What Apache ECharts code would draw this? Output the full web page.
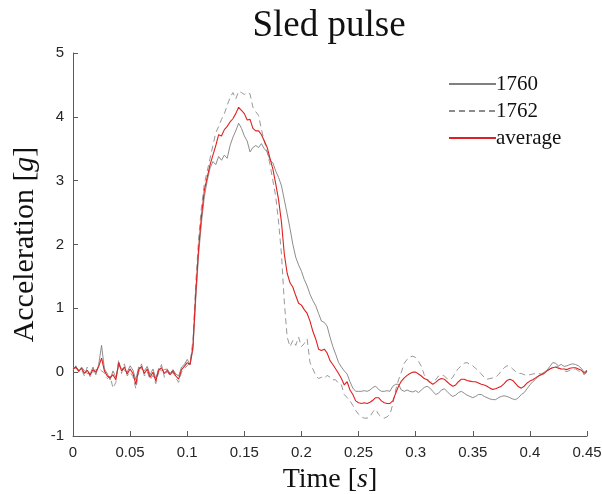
<!DOCTYPE html>
<html>
<head>
<meta charset="utf-8">
<script src="https://cdn.jsdelivr.net/npm/echarts@6/dist/echarts.min.js"></script>
<style>html,body{margin:0;padding:0;background:#fff}#c{width:602px;height:494px}</style>
</head>
<body>
<div id="c"></div>
<script>
// sample spacing of the traces (s)
const sampleStep = 0.0025;
const seriesNames = ['1760', '1762', 'average'];
const xTickLabels = ['0','0.05','0.1','0.15','0.2','0.25','0.3','0.35','0.4','0.45'];
const yTickLabels = ['-1','0','1','2','3','4','5'];

const acc1760 = [
 0.03,0.10,0.00,0.08,0.02,-0.02,-0.03,0.08,-0.04,0.12,
 0.42,0.05,-0.02,-0.12,0.02,-0.08,0.10,0.06,0.03,0.00,
 0.10,0.03,-0.12,0.08,0.05,0.02,0.09,-0.04,0.05,-0.10,
 0.06,0.02,0.04,0.05,-0.02,0.04,-0.03,-0.06,0.08,0.12,
 0.20,0.12,0.35,1.15,1.85,2.35,2.75,3.00,3.20,3.30,
 3.25,3.38,3.32,3.40,3.35,3.55,3.68,3.78,3.90,3.82,
 3.70,3.62,3.45,3.52,3.55,3.52,3.58,3.50,3.45,3.32,
 3.28,3.15,3.05,2.92,2.70,2.48,2.25,2.00,1.80,1.68,
 1.58,1.45,1.35,1.22,1.12,1.04,0.92,0.80,0.78,0.72,
 0.55,0.40,0.28,0.15,0.08,0.02,-0.03,-0.15,-0.25,-0.30,
 -0.30,-0.30,-0.29,-0.30,-0.28,-0.24,-0.22,-0.27,-0.30,-0.30,
 -0.29,-0.30,-0.22,-0.19,-0.19,-0.28,-0.30,-0.28,-0.30,-0.31,
 -0.29,-0.32,-0.28,-0.24,-0.22,-0.25,-0.30,-0.35,-0.33,-0.28,
 -0.26,-0.30,-0.35,-0.38,-0.36,-0.32,-0.30,-0.33,-0.36,-0.38,
 -0.40,-0.38,-0.35,-0.35,-0.38,-0.40,-0.42,-0.43,-0.43,-0.40,
 -0.38,-0.37,-0.38,-0.40,-0.42,-0.43,-0.40,-0.35,-0.32,-0.26,
 -0.20,-0.15,-0.11,-0.06,-0.03,0.00,0.03,0.09,0.15,0.14,
 0.10,0.12,0.09,0.10,0.12,0.13,0.12,0.10,0.06,0.00,
 0.03
];
const acc1762 = [
 0.07,0.06,0.04,0.04,-0.06,0.08,-0.07,0.00,0.04,0.06,
 0.02,-0.01,-0.10,-0.06,-0.25,-0.16,0.20,-0.02,0.13,-0.06,
 0.00,-0.07,-0.26,0.00,0.13,-0.06,0.01,-0.12,-0.05,-0.18,
 0.00,0.12,-0.08,0.01,-0.06,0.00,-0.09,-0.16,0.00,0.06,
 0.10,0.15,0.50,1.40,2.10,2.60,2.95,3.15,3.35,3.55,
 3.75,3.85,3.96,4.05,4.18,4.30,4.38,4.28,4.40,4.38,
 4.35,4.38,4.36,4.15,4.08,4.02,3.80,3.62,3.45,3.25,
 3.00,2.75,2.35,1.85,1.10,0.55,0.40,0.50,0.42,0.55,
 0.40,0.45,0.52,0.15,0.05,-0.05,-0.10,-0.08,-0.10,-0.05,
 -0.08,-0.12,-0.12,-0.18,-0.20,-0.35,-0.40,-0.45,-0.52,-0.60,
 -0.66,-0.70,-0.72,-0.72,-0.70,-0.62,-0.58,-0.66,-0.70,-0.72,
 -0.70,-0.66,-0.50,-0.28,-0.12,0.00,0.14,0.20,0.24,0.25,
 0.23,0.17,0.09,-0.04,-0.10,-0.16,-0.15,-0.12,-0.06,-0.04,
 -0.06,-0.10,-0.12,-0.08,0.00,0.06,0.10,0.14,0.15,0.12,
 0.10,0.06,0.02,-0.03,-0.08,-0.11,-0.10,-0.09,-0.08,-0.04,
 0.02,0.07,0.10,0.09,0.05,0.01,-0.02,-0.02,-0.04,-0.05,
 -0.04,-0.03,-0.02,-0.02,-0.03,-0.02,0.02,0.05,0.08,0.10,
 0.08,0.04,0.02,0.01,0.03,0.04,0.05,0.02,0.00,-0.04,
 0.00
];
const accAverage = [
 0.05,0.08,0.02,0.06,-0.02,0.03,-0.05,0.04,0.00,0.09,
 0.22,0.02,-0.06,-0.09,-0.04,-0.12,0.15,0.02,0.08,-0.03,
 0.05,-0.02,-0.19,0.04,0.09,-0.02,0.05,-0.08,0.00,-0.14,
 0.03,0.07,-0.02,0.03,-0.04,0.02,-0.06,-0.11,0.04,0.09,
 0.15,0.12,0.40,1.25,1.95,2.45,2.85,3.05,3.25,3.40,
 3.55,3.72,3.70,3.80,3.85,3.92,3.97,4.05,4.15,4.10,
 4.05,3.95,3.96,3.82,3.78,3.78,3.72,3.62,3.52,3.35,
 3.18,2.95,2.70,2.35,1.85,1.55,1.40,1.33,1.20,1.08,
 1.05,0.98,0.92,0.80,0.64,0.52,0.36,0.34,0.36,0.30,
 0.18,0.12,0.05,-0.02,-0.10,-0.20,-0.15,-0.28,-0.35,-0.45,
 -0.48,-0.49,-0.48,-0.49,-0.47,-0.44,-0.40,-0.40,-0.45,-0.48,
 -0.49,-0.49,-0.45,-0.33,-0.22,-0.14,-0.09,-0.05,-0.02,0.00,
 0.00,-0.03,-0.06,-0.10,-0.12,-0.16,-0.19,-0.16,-0.12,-0.10,
 -0.11,-0.15,-0.19,-0.22,-0.20,-0.15,-0.11,-0.11,-0.13,-0.14,
 -0.15,-0.15,-0.17,-0.19,-0.20,-0.22,-0.25,-0.27,-0.26,-0.24,
 -0.22,-0.18,-0.13,-0.11,-0.13,-0.18,-0.23,-0.25,-0.22,-0.17,
 -0.14,-0.12,-0.09,-0.06,-0.04,-0.02,0.02,0.05,0.07,0.08,
 0.06,0.05,0.05,0.04,0.06,0.07,0.07,0.05,0.03,-0.02,
 0.02
];

function pairs(vals) {
  return vals.map((v, i) => [+(i * sampleStep).toFixed(4), v]);
}

const chart = echarts.init(document.getElementById('c'), null, {renderer: 'canvas'});
const serif = 'Liberation Serif';
const sans = 'Liberation Sans';
const axisCol = '#5a5a5a';

chart.setOption({
  animation: false,
  backgroundColor: '#ffffff',
  title: {
    text: 'Sled pulse',
    left: 324,
    textAlign: 'center',
    top: 3,
    textStyle: {fontFamily: serif, fontSize: 37, fontWeight: 'normal', color: '#111'}
  },
  legend: {
    data: seriesNames,
    orient: 'vertical',
    left: 443,
    top: 68,
    itemWidth: 47,
    itemHeight: 14,
    itemGap: 5,
    itemStyle: {opacity: 0, borderWidth: 0},
    textStyle: {fontFamily: serif, fontSize: 21, lineHeight: 22, color: '#111', padding: [0, 0, 0, -5]}
  },
  grid: {left: 73, right: 15, top: 53, bottom: 58, containLabel: false, outerBoundsMode: 'none'},
  xAxis: {
    type: 'value',
    min: 0, max: 0.45, interval: 0.05,
    name: 'Time [{i|s}]',
    nameLocation: 'middle',
    nameGap: 30,
    nameTextStyle: {fontFamily: serif, fontSize: 28, color: '#111',
      rich: {i: {fontFamily: serif, fontStyle: 'italic', fontSize: 28, color: '#111'}}},
    axisLine: {onZero: false, lineStyle: {color: axisCol, width: 1}},
    axisTick: {inside: true, length: 5, lineStyle: {color: axisCol}},
    axisLabel: {fontFamily: sans, fontSize: 15, color: '#262626', margin: 9,
      formatter: (v) => xTickLabels[Math.round(v / 0.05)]},
    splitLine: {show: false}
  },
  yAxis: {
    type: 'value',
    min: -1, max: 5, interval: 1,
    name: 'Acceleration [{i|g}]',
    nameLocation: 'middle',
    nameRotate: 90,
    nameGap: 28,
    nameTextStyle: {fontFamily: serif, fontSize: 30, color: '#111',
      rich: {i: {fontFamily: serif, fontStyle: 'italic', fontSize: 30, color: '#111'}}},
    axisLine: {show: true, onZero: false, lineStyle: {color: axisCol, width: 1}},
    axisTick: {show: true, inside: true, length: 5, lineStyle: {color: axisCol}},
    axisLabel: {fontFamily: sans, fontSize: 15, color: '#262626', margin: 9,
      formatter: (v) => yTickLabels[Math.round(v) + 1]},
    splitLine: {show: false}
  },
  series: [
    {name: seriesNames[0], type: 'line', data: pairs(acc1760), symbol: 'none',
     lineStyle: {color: '#808080', width: 0.9}, itemStyle: {color: '#808080'}, z: 2},
    {name: seriesNames[1], type: 'line', data: pairs(acc1762), symbol: 'none',
     lineStyle: {color: '#8c8c8c', width: 0.9, type: [6, 4]}, itemStyle: {color: '#8c8c8c'}, z: 2},
    {name: seriesNames[2], type: 'line', data: pairs(accAverage), symbol: 'none',
     lineStyle: {color: '#e02020', width: 1.1}, itemStyle: {color: '#e02020'}, z: 3}
  ]
});
</script>
</body>
</html>
